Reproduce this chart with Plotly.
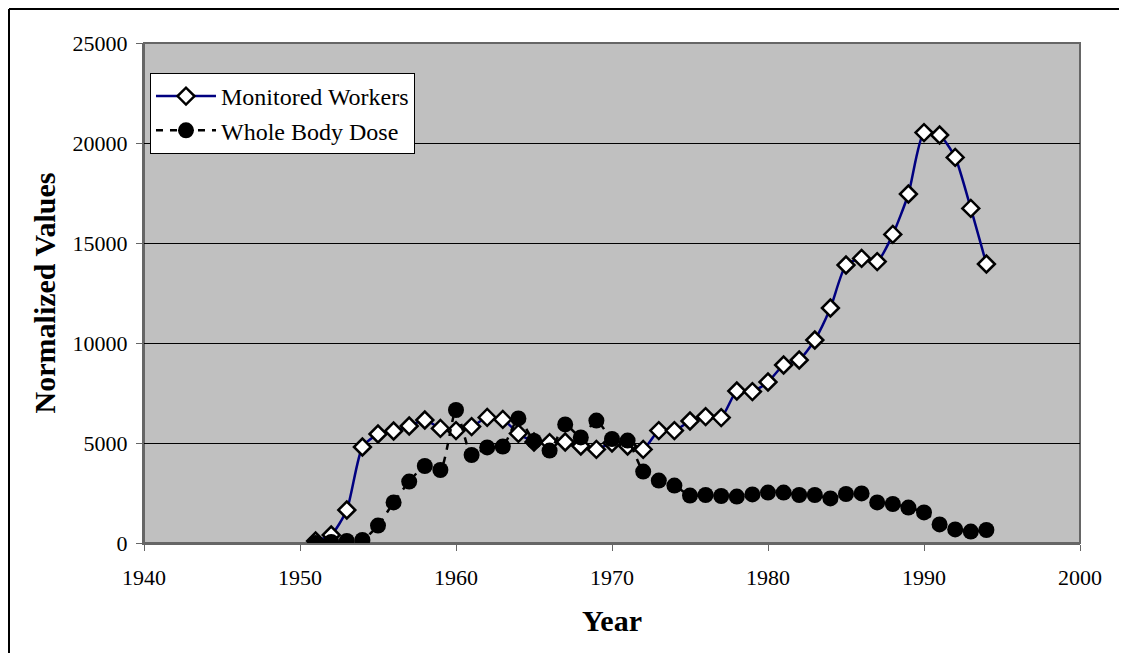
import plotly.graph_objects as go

years = list(range(1951, 1995))
monitored_workers = [
    100, 400, 1650, 4800, 5450, 5600, 5850, 6150, 5730, 5620,
    5820, 6280, 6180, 5480, 5050, 5020, 5050, 4850, 4680, 5000,
    4850, 4680, 5620, 5620, 6100, 6320, 6270, 7600, 7570, 8050,
    8900, 9150, 10150, 11750, 13900, 14230, 14070, 15430, 17450, 20520,
    20400, 19280, 16730, 13950,
]
whole_body_dose = [
    0, 50, 100, 150, 870, 2030, 3070, 3850, 3650, 6650,
    4400, 4780, 4820, 6230, 5100, 4620, 5930, 5280, 6120, 5200,
    5120, 3570, 3120, 2870, 2370, 2400, 2350, 2320, 2430, 2520,
    2520, 2400, 2400, 2230, 2450, 2480, 2030, 1950, 1770, 1530,
    930, 680, 570, 650,
]
x_ticks = [1940, 1950, 1960, 1970, 1980, 1990, 2000]
y_ticks = [0, 5000, 10000, 15000, 20000, 25000]

FONT = "Liberation Serif, Times New Roman, serif"

fig = go.Figure()
fig.add_trace(go.Scatter(
    x=years, y=monitored_workers, name="Monitored Workers", mode="lines+markers",
    line=dict(color="#000080", width=2.5, shape="spline", smoothing=0.6),
    marker=dict(symbol="diamond", size=13, color="white", line=dict(color="black", width=2.5)),
    legendgroup="mw",
))
fig.add_trace(go.Scatter(
    x=years, y=whole_body_dose, name="Whole Body Dose", mode="lines+markers",
    line=dict(color="black", width=2.5, dash="7px,7px", shape="spline", smoothing=0.6),
    marker=dict(symbol="circle", size=16, color="black", line=dict(width=0)),
    legendgroup="wbd",
))

fig.update_layout(
    width=1127, height=653,
    margin=dict(l=136, r=55, t=35, b=118),
    paper_bgcolor="white", plot_bgcolor="#C0C0C0",
    font=dict(family=FONT, color="black", size=22),
    showlegend=True,
    legend=dict(
        x=0.0064, y=0.94, xanchor="left", yanchor="top",
        bgcolor="white", bordercolor="black", borderwidth=1,
        font=dict(family=FONT, size=24, color="black"),
        itemwidth=60, tracegroupgap=6, traceorder="normal",
    ),
    xaxis=dict(
        range=[1940, 2000], tickvals=x_ticks, ticktext=[str(v) for v in x_ticks],
        showgrid=False, zeroline=False,
        showline=True, linecolor="#666666", linewidth=2, mirror=False,
        ticks="outside", ticklen=6, tickcolor="#666666", tickwidth=1,
        ticklabelstandoff=8,
        tickfont=dict(family=FONT, size=22),
        title=dict(text="<b>Year</b>", font=dict(family=FONT, size=30), standoff=21),
    ),
    yaxis=dict(
        range=[0, 25000], tickvals=y_ticks, ticktext=[str(v) for v in y_ticks],
        showgrid=True, gridcolor="black", gridwidth=1, zeroline=False,
        showline=True, linecolor="#666666", linewidth=2,
        ticks="outside", ticklen=6, tickcolor="#666666", tickwidth=1,
        ticklabelstandoff=4,
        tickfont=dict(family=FONT, size=22),
        title=dict(text="<b>Normalized Values</b>", font=dict(family=FONT, size=30), standoff=8),
    ),
    shapes=[
        dict(type="line", xref="paper", yref="paper",
             x0=(1 - 136) / 936, x1=(1117 - 136) / 936,
             y0=(535 - 1) / 500, y1=(535 - 1) / 500,
             line=dict(color="black", width=2), layer="below"),
        dict(type="line", xref="paper", yref="paper",
             x0=(1 - 136) / 936, x1=(1 - 136) / 936,
             y0=(535 - 1) / 500, y1=(535 - 720) / 500,
             line=dict(color="black", width=2), layer="below"),
        dict(type="rect", xref="paper", yref="paper", x0=0, x1=1, y0=0, y1=1,
             line=dict(color="#666666", width=2), fillcolor="rgba(0,0,0,0)", layer="below"),
    ],
)

fig.write_html("out.html")
